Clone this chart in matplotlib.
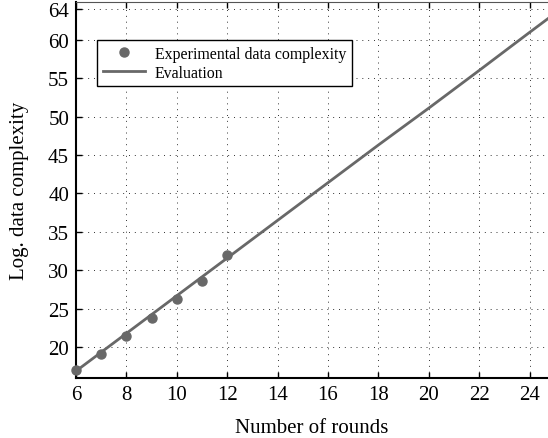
import matplotlib.pyplot as plt

plt.rcParams['font.family'] = ['Liberation Serif', 'DejaVu Serif']

# experimental points
rounds_exp = [6, 7, 8, 9, 10, 11, 12]
complexity_exp = [16.98, 19.18, 21.47, 23.86, 26.29, 28.55, 32.0]

# evaluation curve
rounds_eval = [6, 8, 10, 12, 14, 16, 18, 20, 22, 24, 25]
complexity_eval = [16.9, 21.8, 26.7, 31.6, 36.5, 41.4, 46.3, 51.1, 56.0, 60.95, 63.4]

yticks = [20, 25, 30, 35, 40, 45, 50, 55, 60, 64]
xticks = [6, 8, 10, 12, 14, 16, 18, 20, 22, 24]

grey = '#686868'

fig = plt.figure(figsize=(5.48, 4.39), dpi=100)
ax = fig.add_axes([0.1387, 0.1367, 0.8613, 0.8565])

ax.plot(rounds_eval, complexity_eval, color=grey, lw=2.0, label='Evaluation', zorder=3)
ax.plot(rounds_exp, complexity_exp, 'o', color=grey, ms=6.5, label='Experimental data complexity',
        zorder=4, clip_on=False)

ax.set_xlim(6, 24.73)
ax.set_ylim(16, 64.9)
ax.set_xticks(xticks)
ax.set_yticks(yticks)
ax.grid(True, ls=(0, (1, 5)), color='#333333', lw=0.7)

ax.tick_params(direction='in', top=True, right=False, labelsize=15, length=4, width=1, pad=5)
ax.spines['right'].set_visible(False)
ax.spines['left'].set_linewidth(1.5)
ax.spines['bottom'].set_linewidth(1.5)
ax.spines['top'].set_linewidth(0.8)
ax.spines['top'].set_color('#555555')

ax.set_xlabel('Number of rounds', fontsize=15, labelpad=10)
ax.set_ylabel('Log. data complexity', fontsize=15, labelpad=14)

handles, labels = ax.get_legend_handles_labels()
leg = ax.legend(handles[::-1], labels[::-1], loc='upper left', bbox_to_anchor=(0.028, 0.92),
                fontsize=11.4, fancybox=False, framealpha=1, edgecolor='black',
                borderpad=0.35, labelspacing=0.2, handlelength=2.7, handletextpad=0.6,
                numpoints=1)
leg.get_frame().set_linewidth(1.0)

fig.savefig('out.png', dpi=100)
